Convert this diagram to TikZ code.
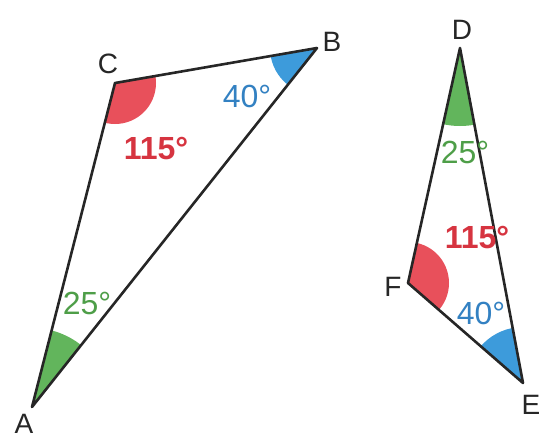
\documentclass[tikz,border=0pt]{standalone}
\usepackage{fontspec}
\setmainfont{Liberation Sans}
\definecolor{secred}{HTML}{E8505B}
\definecolor{secblue}{HTML}{3D9BDB}
\definecolor{secgreen}{HTML}{62B55C}
\definecolor{txtred}{HTML}{D63440}
\definecolor{txtblue}{HTML}{3381C2}
\definecolor{txtgreen}{HTML}{4E9E48}
\tikzset{
  edge/.style={line width=2.6pt, line join=round, draw=black!85},
  vlabel/.style={font=\fontsize{28}{28}\selectfont, text=black!85, inner sep=0pt},
  anglabel/.style={font=\fontsize{32}{32}\selectfont, inner sep=0pt},
  boldang/.style={font=\fontsize{32}{32}\selectfont\bfseries, inner sep=0pt},
}
\begin{document}
\begin{tikzpicture}[x=1pt,y=-1pt]
\useasboundingbox (0,0) rectangle (541,440);
% triangle ABC
\coordinate (A) at (32,407);
\coordinate (B) at (317,48);
\coordinate (C) at (115,83);
% triangle DEF
\coordinate (D) at (460,48);
\coordinate (E) at (523,383);
\coordinate (F) at (408,283);
\begin{scope}
  \clip (A)--(B)--(C)--cycle;
  \fill[secred] (C) circle[radius=41pt];
  \fill[secblue] (B) circle[radius=47pt];
  \fill[secgreen] (A) circle[radius=79pt];
\end{scope}
\begin{scope}
  \clip (D)--(E)--(F)--cycle;
  \fill[secred] (F) circle[radius=41pt];
  \fill[secblue] (E) circle[radius=56pt];
  \fill[secgreen] (D) circle[radius=78pt];
\end{scope}
\draw[edge] (A)--(B)--(C)--cycle;
\draw[edge] (D)--(E)--(F)--cycle;
% vertex labels
\node[vlabel] (lA) at (24,424) {A};
\node[vlabel] (lB) at (332,42) {B};
\node[vlabel] (lC) at (108,64) {C};
\node[vlabel] (lD) at (462,30) {D};
\node[vlabel] (lE) at (531,405) {E};
\node[vlabel] (lF) at (393,287) {F};
% angle labels
\node[boldang, text=txtred] (a1) at (156,149) {115°};
\node[anglabel, text=txtblue] (a2) at (247,96) {40°};
\node[anglabel, text=txtgreen] (a3) at (87,303) {25°};
\node[anglabel, text=txtgreen] (a4) at (465,152) {25°};
\node[boldang, text=txtred] (a5) at (477,238) {115°};
\node[anglabel, text=txtblue] (a6) at (481,313) {40°};
\end{tikzpicture}
\end{document}
